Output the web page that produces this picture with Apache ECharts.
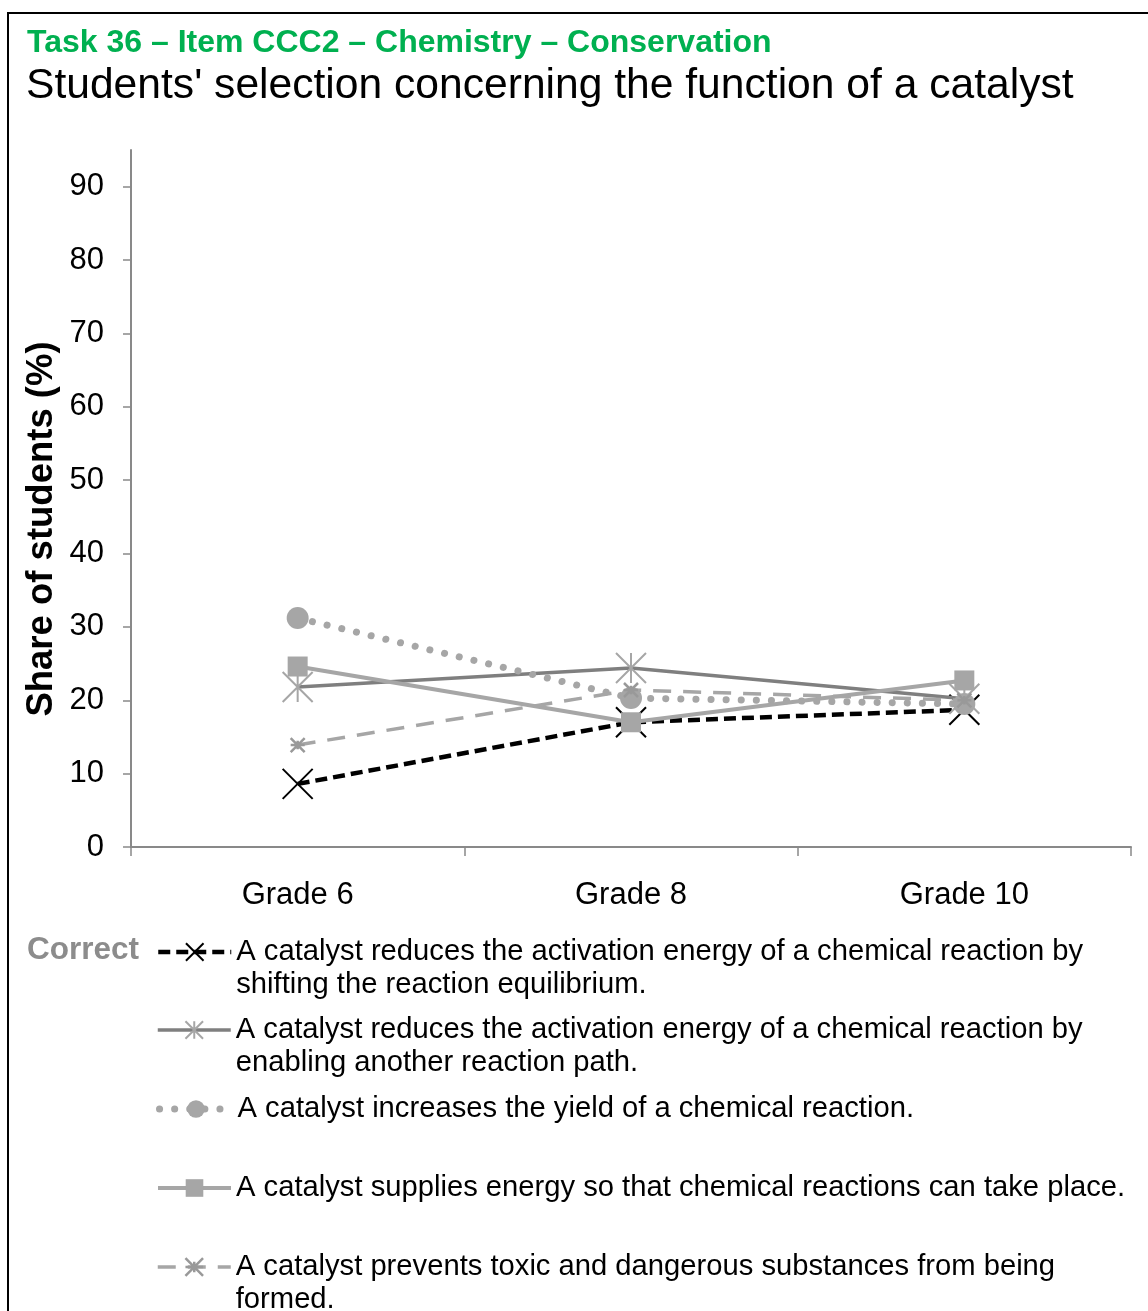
<!DOCTYPE html>
<html>
<head>
<meta charset="utf-8">
<script src="https://cdn.jsdelivr.net/npm/echarts@6/dist/echarts.min.js"></script>
<style>
html,body{margin:0;padding:0;background:#fff;}
#chart{width:1148px;height:1311px;}
</style>
</head>
<body>
<div id="chart"></div>
<script>
const categories = ['Grade 6', 'Grade 8', 'Grade 10'];
const yTicks = [0, 10, 20, 30, 40, 50, 60, 70, 80, 90];

const seriesNames = [
  'A catalyst reduces the activation energy of a chemical reaction by shifting the reaction equilibrium.',
  'A catalyst reduces the activation energy of a chemical reaction by enabling another reaction path.',
  'A catalyst increases the yield of a chemical reaction.',
  'A catalyst supplies energy so that chemical reactions can take place.',
  'A catalyst prevents toxic and dangerous substances from being formed.'
];
const legendTexts = [
  'A catalyst reduces the activation energy of a chemical reaction by\nshifting the reaction equilibrium.',
  'A catalyst reduces the activation energy of a chemical reaction by\nenabling another reaction path.',
  'A catalyst increases the yield of a chemical reaction.',
  'A catalyst supplies energy so that chemical reactions can take place.',
  'A catalyst prevents toxic and dangerous substances from being\nformed.'
];

const equilibriumValues = [8.6, 17.0, 18.7];
const reactionPathValues = [21.8, 24.4, 20.2];
const yieldValues = [31.2, 20.3, 19.5];
const energyValues = [24.6, 17.0, 22.7];
const toxicValues = [13.9, 21.4, 20.0];

const FONT = '"Liberation Sans", Arial, sans-serif';

const X_PATH = 'path://M0,0L10,10M10,0L0,10';
const STAR_PATH = 'path://M0,0L10,10M10,0L0,10M5,0L5,10';
const STAR2_PATH = 'path://M0,0L10,10M10,0L0,10M0,5L10,5M5,2L5,8';

const chart = echarts.init(document.getElementById('chart'), null, {renderer: 'canvas'});

const seriesDefs = [
  {data: equilibriumValues, color: '#000000', lineColor: '#000000', width: 4.5, type: [12, 6], cap: 'butt',
   symbol: X_PATH, symbolSize: 30, bw: 2},
  {data: reactionPathValues, color: '#a6a6a6', lineColor: '#7f7f7f', width: 3.5, type: 'solid', cap: 'butt',
   symbol: STAR_PATH, symbolSize: 30, bw: 2},
  {data: yieldValues, color: '#a6a6a6', lineColor: '#a6a6a6', width: 7, type: [0.1, 15], cap: 'round',
   symbol: 'circle', symbolSize: 22, bw: 0},
  {data: energyValues, color: '#a6a6a6', lineColor: '#a6a6a6', width: 4, type: 'solid', cap: 'butt',
   symbol: 'rect', symbolSize: 20, bw: 0},
  {data: toxicValues, color: '#999999', lineColor: '#a6a6a6', width: 3.5, type: [18, 12], cap: 'butt',
   symbol: STAR2_PATH, symbolSize: 14, bw: 2.5}
];

const series = seriesDefs.map((d, i) => ({
  name: seriesNames[i],
  type: 'line',
  data: d.data,
  symbol: d.symbol,
  symbolSize: d.symbolSize,
  showAllSymbol: true,
  lineStyle: {color: d.lineColor, width: d.width, type: d.type, cap: d.cap},
  itemStyle: {color: d.color, borderColor: d.color, borderWidth: d.bw, opacity: 1},
  emphasis: {disabled: true},
  z: 2 + i
}));

// icon centers per legend item
const legendCenters = [952, 1030, 1109, 1188, 1267];
const legends = legendTexts.map((t, i) => {
  const twoLines = t.indexOf('\n') >= 0;
  const text = twoLines ? '\n' + t : t;
  const top = twoLines ? legendCenters[i] - 49.5 : legendCenters[i] - 16.5;
  return {
    show: true,
    left: 156,
    top: top,
    padding: 0,
    orient: 'vertical',
    itemWidth: 73,
    itemHeight: 22,
    selectedMode: false,
    data: [seriesNames[i]],
    formatter: () => text,
    lineStyle: {width: 'inherit', type: 'inherit', cap: 'inherit'},
    itemStyle: {borderWidth: 'inherit'},
    textStyle: {fontFamily: FONT, fontSize: 29.2, color: '#000', lineHeight: 33}
  };
});

const option = {
  animation: false,
  backgroundColor: '#ffffff',
  textStyle: {fontFamily: FONT},
  grid: {left: 131, right: 17, top: 150, bottom: 464, containLabel: false},
  xAxis: {
    type: 'category',
    data: categories,
    boundaryGap: true,
    axisLine: {lineStyle: {color: '#898989', width: 2}},
    axisTick: {show: true, alignWithLabel: false, length: 9, lineStyle: {color: '#898989', width: 1.5}},
    axisLabel: {fontFamily: FONT, fontSize: 31, color: '#000', margin: 33},
    splitLine: {show: false}
  },
  yAxis: {
    type: 'value',
    min: 0,
    max: 95,
    interval: 10,
    axisLine: {show: true, lineStyle: {color: '#898989', width: 2}},
    axisTick: {show: true, length: 8, customValues: yTicks, lineStyle: {color: '#898989', width: 1.5}},
    axisLabel: {fontFamily: FONT, fontSize: 31, color: '#000', margin: 27, customValues: yTicks},
    splitLine: {show: false}
  },
  legend: legends,
  series: series,
  graphic: [
    {type: 'rect', shape: {x: 8, y: 13, width: 1200, height: 1400}, style: {fill: null, stroke: '#000', lineWidth: 2}, silent: true, z: 100},
    {type: 'text', x: 27, y: 43,
     style: {text: 'Task 36 – Item CCC2 – Chemistry – Conservation', font: 'bold 32px ' + FONT, fill: '#00b050', align: 'left', verticalAlign: 'middle'}},
    {type: 'text', x: 26, y: 86,
     style: {text: "Students' selection concerning the function of a catalyst", font: '42.6px ' + FONT, fill: '#000', align: 'left', verticalAlign: 'middle'}},
    {type: 'text', x: 42, y: 529, rotation: Math.PI / 2,
     style: {text: 'Share of students (%)', font: 'bold 36.5px ' + FONT, fill: '#000', align: 'center', verticalAlign: 'middle'}},
    {type: 'text', x: 27, y: 950,
     style: {text: 'Correct', font: 'bold 31.5px ' + FONT, fill: '#8c8c8c', align: 'left', verticalAlign: 'middle'}}
  ]
};

chart.setOption(option);
</script>
</body>
</html>
